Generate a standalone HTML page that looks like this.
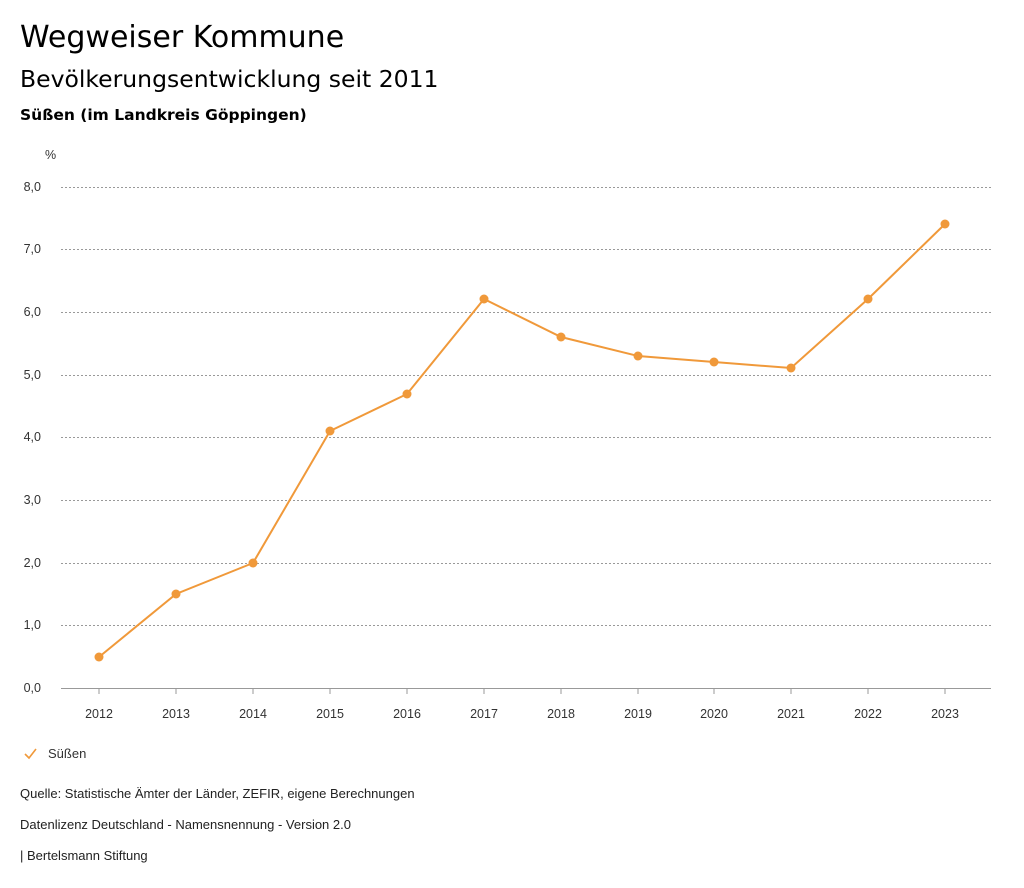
<!DOCTYPE html>
<html><head><meta charset="utf-8"><style>
body{margin:0;background:#fff;width:1024px;height:888px;overflow:hidden;font-family:"DejaVu Sans","Liberation Sans",sans-serif;color:#000}
.t{position:absolute;left:20px;white-space:nowrap}
</style></head><body>
<div class="t" style="top:20px;font-size:30px">Wegweiser Kommune</div>
<div class="t" style="top:65px;font-size:23.5px">Bevölkerungsentwicklung seit 2011</div>
<div class="t" style="top:106px;font-size:15.5px;font-weight:bold">Süßen (im Landkreis Göppingen)</div>
<svg width="1024" height="888" style="position:absolute;left:0;top:0" font-family="Liberation Sans, sans-serif" font-size="12.5">
<text x="45" y="159" fill="#333">%</text>
<g stroke="#999" stroke-dasharray="2,2" stroke-width="1">
<line x1="61" x2="991" y1="187.5" y2="187.5"/><line x1="61" x2="991" y1="249.5" y2="249.5"/>
<line x1="61" x2="991" y1="312.5" y2="312.5"/><line x1="61" x2="991" y1="375.5" y2="375.5"/>
<line x1="61" x2="991" y1="437.5" y2="437.5"/><line x1="61" x2="991" y1="500.5" y2="500.5"/>
<line x1="61" x2="991" y1="563.5" y2="563.5"/><line x1="61" x2="991" y1="625.5" y2="625.5"/>
</g>
<line x1="61" x2="991" y1="688.5" y2="688.5" stroke="#999"/>
<g fill="#333" text-anchor="end">
<text x="41" y="191">8,0</text><text x="41" y="253">7,0</text><text x="41" y="316">6,0</text>
<text x="41" y="379">5,0</text><text x="41" y="441">4,0</text><text x="41" y="504">3,0</text>
<text x="41" y="567">2,0</text><text x="41" y="629">1,0</text><text x="41" y="692">0,0</text>
</g>
<g fill="#333" text-anchor="middle">
<text x="99" y="718">2012</text><text x="176" y="718">2013</text><text x="253" y="718">2014</text>
<text x="330" y="718">2015</text><text x="407" y="718">2016</text><text x="484" y="718">2017</text>
<text x="561" y="718">2018</text><text x="638" y="718">2019</text><text x="714" y="718">2020</text>
<text x="791" y="718">2021</text><text x="868" y="718">2022</text><text x="945" y="718">2023</text>
</g>
<g stroke="#999"><line x1="99" x2="99" y1="688" y2="694"/><line x1="176" x2="176" y1="688" y2="694"/><line x1="253" x2="253" y1="688" y2="694"/><line x1="330" x2="330" y1="688" y2="694"/><line x1="407" x2="407" y1="688" y2="694"/><line x1="484" x2="484" y1="688" y2="694"/><line x1="561" x2="561" y1="688" y2="694"/><line x1="638" x2="638" y1="688" y2="694"/><line x1="714" x2="714" y1="688" y2="694"/><line x1="791" x2="791" y1="688" y2="694"/><line x1="868" x2="868" y1="688" y2="694"/><line x1="945" x2="945" y1="688" y2="694"/></g>
<polyline fill="none" stroke="#f0993a" stroke-width="2" points="99,657 176,594 253,563 330,431 407,394 484,299 561,337 638,356 714,362 791,368 868,299 945,224"/>
<g fill="#f0993a">
<circle cx="99" cy="657" r="4.5"/><circle cx="176" cy="594" r="4.5"/><circle cx="253" cy="563" r="4.5"/>
<circle cx="330" cy="431" r="4.5"/><circle cx="407" cy="394" r="4.5"/><circle cx="484" cy="299" r="4.5"/>
<circle cx="561" cy="337" r="4.5"/><circle cx="638" cy="356" r="4.5"/><circle cx="714" cy="362" r="4.5"/>
<circle cx="791" cy="368" r="4.5"/><circle cx="868" cy="299" r="4.5"/><circle cx="945" cy="224" r="4.5"/>
</g>
<polyline points="25,754 29,758 36,749" fill="none" stroke="#f0993a" stroke-width="1.6"/>
<text x="48" y="758" fill="#333" font-size="13">Süßen</text>
<g font-size="13" fill="#222">
<text x="20" y="798">Quelle: Statistische Ämter der Länder, ZEFIR, eigene Berechnungen</text>
<text x="20" y="829">Datenlizenz Deutschland - Namensnennung - Version 2.0</text>
<text x="20" y="860">| Bertelsmann Stiftung</text>
</g>
</svg>
</body></html>
